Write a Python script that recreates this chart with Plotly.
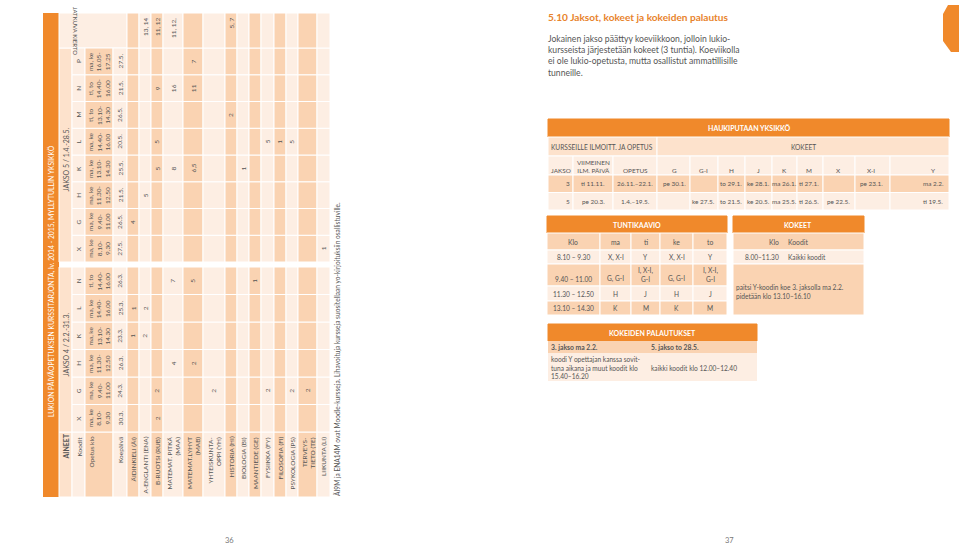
import plotly.graph_objects as go

# ---------------- data: left page (rotated course table) ----------------
left_title = "LUKION PÄIVÄOPETUKSEN KURSSITARJONTA, lv. 2014 - 2015, MYLLYTULLIN YKSIKKÖ"
jakso4_head = "JAKSO 4 / 2.2.-31.3."
jakso5_head = "JAKSO 5 / 1.4.-28.5."
jakso4_codes = ["X", "G", "H", "K", "L", "N"]
jakso4_times = ["ma, ke<br>8.10-<br>9.30", "ma, ke<br>9.40-<br>11.00", "ma, ke<br>11.30-<br>12.50",
                "ma, ke<br>13.10-<br>14.30", "ma, ke<br>14.40-<br>16.00", "ti, to<br>14.40-<br>16.00"]
jakso4_dates = ["30.3.", "24.3.", "26.3.", "23.3.", "25.3.", "26.3."]
jakso5_codes = ["X", "G", "H", "K", "L", "M", "N", "P"]
jakso5_times = ["ma, ke<br>8.10-<br>9.30", "ma, ke<br>9.40-<br>11.00", "ma, ke<br>11.30-<br>12.50",
                "ma, ke<br>13.10-<br>14.30", "ma, ke<br>14.40-<br>16.00", "ti, to<br>13.10-<br>14.30",
                "ti, to<br>14.40-<br>16.00", "ma, ke<br>16.05-<br>17.25"]
jakso5_dates = ["27.5.", "26.5.", "21.5.", "25.5.", "20.5.", "26.5.", "21.5.", "27.5."]

subjects = ["ÄIDINKIELI (ÄI)", "A-ENGLANTI (ENA)", "B-RUOTSI (RUB)", "MATEMAT. PITKÄ<br>(MAA)",
            "MATEMAT.LYHYT<br>(MAB)", "YHTEISKUNTA-<br>OPPI (YH)", "HISTORIA (HI)", "BIOLOGIA (BI)",
            "MAANTIEDE (GE)", "FYSIIKKA (FY)", "FILOSOFIA (FI)", "PSYKOLOGIA (PS)",
            "TERVEYS-<br>TIETO (TE)", "LIIKUNTA (LI)"]
# courses per subject, jakso 4 columns X G H K L N
jakso4_courses = [
    ["", "", "", "1", "1", ""],
    ["", "", "", "2", "2", ""],
    ["2", "2", "", "", "", ""],
    ["", "", "4", "", "", "7"],
    ["", "", "2", "", "", "5"],
    ["", "2", "", "", "", ""],
    ["", "", "", "", "", ""],
    ["", "", "", "", "", ""],
    ["", "", "", "", "", "1"],
    ["", "2", "", "", "", ""],
    ["", "", "", "", "", ""],
    ["", "2", "", "", "", ""],
    ["", "2", "", "", "", ""],
    ["", "", "", "", "", ""],
]
# jakso 5 columns X G H K L M N P
jakso5_courses = [
    ["", "4", "", "", "", "", "", ""],
    ["", "", "5", "", "", "", "", ""],
    ["", "", "", "5", "5", "", "9", ""],
    ["", "", "", "8", "", "", "16", ""],
    ["", "", "", "6,5", "", "", "11", "7"],
    ["", "", "", "", "", "", "", ""],
    ["", "", "", "", "", "2", "", ""],
    ["", "", "", "1", "", "", "", ""],
    ["", "", "", "", "", "", "", ""],
    ["", "", "", "", "5", "", "", ""],
    ["", "", "", "", "1", "", "", ""],
    ["", "", "", "", "5", "", "", ""],
    ["", "", "", "", "", "", "", ""],
    ["1", "", "", "", "", "", "", ""],
]
jatkuva = ["", "13, 14", "11, 12", "11, 12,", "", "", "5, 7", "", "", "", "", "", "", ""]
footnote = "ÄI9M ja ENA14M ovat Moodle-kursseja. Lihavoituja kursseja suositellaan yo-kirjoituksiin osallistuville."

# ---------------- data: right page ----------------
heading = "5.10 Jaksot, kokeet ja kokeiden palautus"
intro = ("Jokainen jakso päättyy koeviikkoon, jolloin lukio-<br>kursseista järjestetään kokeet (3 tuntia). Koeviikolla"
         "<br>ei ole lukio-opetusta, mutta osallistut ammatillisille<br>tunneille.")
exam_codes = ["G", "G-I", "H", "J", "K", "M", "X", "X-I", "Y"]
exam_jakso = ["3", "5"]
exam_last_reg = ["ti 11.11.", "pe 20.3."]
exam_teaching = ["26.11.–22.1.", "1.4.–19.5."]
exam_days = [
    ["pe 30.1.", "", "to 29.1.", "ke 28.1.", "ma 26.1.", "ti 27.1.", "", "pe 23.1.", "ma 2.2."],
    ["", "ke 27.5.", "to 21.5.", "ke 20.5.", "ma 25.5.", "ti 26.5.", "pe 22.5.", "", "ti 19.5."],
]
week_days = ["ma", "ti", "ke", "to"]
lesson_times = ["8.10 – 9.30", "9.40 – 11.00", "11.30 – 12.50", "13.10 – 14.30"]
lesson_codes = [
    ["X, X-I", "Y", "X, X-I", "Y"],
    ["G, G-I", "I, X-I,<br>G-I", "G, G-I", "I, X-I,<br>G-I"],
    ["H", "J", "H", "J"],
    ["K", "M", "K", "M"],
]
exam_time = "8.00–11.30"
exam_time_codes = "Kaikki koodit"
exam_note = "paitsi Y-koodin koe 3. jaksolla ma 2.2.<br>pidetään klo 13.10–16.10"
return_heads = ["3. jakso ma 2.2.", "5. jakso to 28.5."]
return_texts = ["koodi Y opettajan kanssa sovit-<br>tuna aikana ja muut koodit klo<br>15.40–16.20",
                "kaikki koodit klo 12.00–12.40"]

# ---------------- styles ----------------
ORANGE = "#f0892b"
DARK = "#fad3b2"
MID = "#fde2cc"
LIGHT = "#fdeee3"
TXT = "#555555"
FONT = "Lato"

shapes = []
annotations = []


def box(x0, y0, x1, y1, fill, line="white", lw=1):
    shapes.append(dict(type="rect", xref="x", yref="y", x0=x0, y0=y0, x1=x1, y1=y1,
                       fillcolor=fill, line=dict(color=line, width=lw), layer="below"))


def label(x, y, text, size=6.5, color=TXT, angle=0, xa="center", ya="middle", align="center", bold=False):
    if bold:
        text = "<b>" + text + "</b>"
    annotations.append(dict(x=x, y=y, xref="x", yref="y", text=text, showarrow=False,
                            textangle=angle, xanchor=xa, yanchor=ya, align=align,
                            font=dict(family=FONT, size=size, color=color), borderpad=0))


# ---------------- left page geometry ----------------
TOP, BOT = 13, 497
lab_y = (432, 497)
w4 = 27.5
w5 = 26.75
j4_cols = [(432 - (i + 1) * w4, 432 - i * w4) for i in range(6)]
j5_cols = [(262 - (i + 1) * w5, 262 - i * w5) for i in range(8)]
jat_y = (TOP, 48)

hx = {"aineet": (59, 72), "koodit": (72, 85), "opetus": (85, 113), "koe": (113, 127)}
sub_w = [12, 12, 12, 20, 20, 22, 12, 12, 12, 13, 12, 12, 19, 13]
sub_x = []
x = 127
for w in sub_w:
    sub_x.append((x, x + w))
    x += w

# title band
shapes.append(dict(type="rect", x0=43, x1=59, y0=TOP, y1=BOT, fillcolor=ORANGE, line=dict(width=0), layer="below"))
label(51, 281, left_title, size=6.8, color="white", angle=-90)

# header rows
ax = hx["aineet"]
box(ax[0], lab_y[0], ax[1], lab_y[1], MID)
label((ax[0] + ax[1]) / 2, 447, "AINEET", size=7, angle=-90, bold=True)
box(ax[0], j4_cols[-1][0], ax[1], j4_cols[0][1], MID)
label((ax[0] + ax[1]) / 2, 345, jakso4_head, size=7, angle=-90)
box(ax[0], j5_cols[-1][0], ax[1], j5_cols[0][1], MID)
label((ax[0] + ax[1]) / 2, 160, jakso5_head, size=7, angle=-90)
box(ax[0], jat_y[0], hx["koe"][1], jat_y[1], LIGHT)
label(76, 31, "JATKUVA KIERTO", size=6, angle=90)

for key, fill, name, vals4, vals5 in [("koodit", LIGHT, "Koodit", jakso4_codes, jakso5_codes),
                                      ("opetus", DARK, "Opetus klo", jakso4_times, jakso5_times),
                                      ("koe", LIGHT, "Koepäivä", jakso4_dates, jakso5_dates)]:
    x0, x1 = hx[key]
    xc = (x0 + x1) / 2
    box(x0, lab_y[0], x1, lab_y[1], fill)
    label(xc if key != "opetus" else x0 + 6, 436, name, size=6.5, angle=-90, ya="top")
    for (y0, y1), v in zip(j4_cols, vals4):
        box(x0, y0, x1, y1, fill)
        label(xc, (y0 + y1) / 2, v, size=6.5, angle=-90)
    for (y0, y1), v in zip(j5_cols, vals5):
        box(x0, y0, x1, y1, fill)
        label(xc, (y0 + y1) / 2, v, size=6.5, angle=-90)

for i, (name, c4, c5, jk) in enumerate(zip(subjects, jakso4_courses, jakso5_courses, jatkuva)):
    x0, x1 = sub_x[i]
    xc = (x0 + x1) / 2
    fill = DARK if i % 2 == 0 else LIGHT
    box(x0, lab_y[0], x1, lab_y[1], fill)
    label(xc, 436, name, size=6.5, angle=-90, ya="top", align="right")
    for (y0, y1), v in zip(j4_cols, c4):
        box(x0, y0, x1, y1, fill)
        label(xc, (y0 + y1) / 2, v, size=6.5, angle=-90)
    for (y0, y1), v in zip(j5_cols, c5):
        box(x0, y0, x1, y1, fill)
        label(xc, (y0 + y1) / 2, v, size=6.5, angle=-90)
    box(x0, jat_y[0], x1, jat_y[1], fill)
    label(xc, 17, jk, size=6.5, angle=-90, ya="top")

label(337, 497, footnote, size=6.6, angle=-90, ya="bottom")
label(229, 540, "36", size=7.5, color="#777")
label(729, 540, "37", size=7.5, color="#777")

# ---------------- right page ----------------
shapes.append(dict(type="path", path="M 948 5 L 943 14 L 943 41 L 951 52 L 959 52 L 959 5 Z",
                   fillcolor=ORANGE, line=dict(width=0)))
label(547, 17, heading, size=10.1, color="#e8832c", xa="left", bold=True)
label(547, 56, intro, size=8.6, xa="left", align="left")

# Haukiputaan yksikkö
box(548, 119, 949, 137, ORANGE, line=ORANGE)
label(749, 128, "HAUKIPUTAAN YKSIKKÖ", size=7, color="white", bold=True)
box(548, 137, 657, 156, MID)
label(602, 146.5, "KURSSEILLE ILMOITT. JA OPETUS", size=6.6)
box(657, 137, 949, 156, MID)
label(803, 146.5, "KOKEET", size=6.6)
left_cols = [(548, 573), (573, 613), (613, 657)]
code_cols = [(657, 690), (690, 718), (718, 745), (745, 772), (772, 797), (797, 823),
             (823, 855), (855, 890), (890, 949)]
code_cx = [674, 703, 731, 758, 784, 809, 838, 871, 933]
for (x0, x1) in left_cols + code_cols:
    box(x0, 156, x1, 175, LIGHT)
label(561, 170, "JAKSO", size=6.4)
label(593, 166, "VIIMEINEN<br>ILM. PÄIVÄ", size=6.4)
label(635, 170, "OPETUS", size=6.4)
for c, xc in zip(exam_codes, code_cx):
    label(xc, 170, c, size=6.4)
for r, (j, reg, teach, days) in enumerate(zip(exam_jakso, exam_last_reg, exam_teaching, exam_days)):
    y0 = 175 + r * 17.5
    fill = DARK if r == 0 else LIGHT
    for (x0, x1) in left_cols + code_cols:
        box(x0, y0, x1, y0 + 17.5, fill)
    yc = y0 + 8.75
    label(571, yc, j, size=6.4, xa="right")
    label(593, yc, reg, size=6.4)
    label(635, yc, teach, size=6.4)
    for d, xc in zip(days, code_cx):
        label(xc, yc, d, size=6.4)

# Tuntikaavio
box(547, 216, 727, 233, ORANGE, line=ORANGE)
label(637, 224.5, "TUNTIKAAVIO", size=7, color="white", bold=True)
t_cols = [(547, 600), (600, 631), (631, 660), (660, 693), (693, 727)]
t_rows = [(233, 250), (250, 264), (264, 286), (286, 301), (301, 315)]
for ri, (y0, y1) in enumerate(t_rows):
    fill = DARK if ri % 2 == 0 else LIGHT
    for (x0, x1) in t_cols:
        box(x0, y0, x1, y1, fill)
label(573, 241.5, "Klo", size=6.8)
for d, (x0, x1) in zip(week_days, t_cols[1:]):
    label((x0 + x1) / 2, 241.5, d, size=6.8)
for ri, (tm, codes) in enumerate(zip(lesson_times, lesson_codes)):
    y0, y1 = t_rows[ri + 1]
    yb = y1 - 2 if ri == 1 else (y0 + y1) / 2
    ya = "bottom" if ri == 1 else "middle"
    label(573, yb, tm, size=6.6, ya=ya)
    for c, (x0, x1) in zip(codes, t_cols[1:]):
        label((x0 + x1) / 2, yb, c, size=6.6, ya=ya)

# Kokeet
box(733, 216, 864, 233, ORANGE, line=ORANGE)
label(798, 224.5, "KOKEET", size=7, color="white", bold=True)
box(733, 233, 864, 250, DARK)
box(733, 250, 864, 264, LIGHT)
box(733, 264, 864, 315, DARK)
label(780, 241.5, "Klo", size=6.8, xa="right")
label(787, 241.5, "Koodit", size=6.8, xa="left")
label(780, 257, exam_time, size=6.6, xa="right")
label(787, 257, exam_time_codes, size=6.6, xa="left")
label(735, 291, exam_note, size=6.6, xa="left", align="left")

# Kokeiden palautukset
box(548, 324, 757, 341, ORANGE, line=ORANGE)
label(652, 332.5, "KOKEIDEN PALAUTUKSET", size=7, color="white", bold=True)
box(548, 341, 757, 353, DARK, lw=0)
box(548, 353, 757, 381, LIGHT, lw=0)
label(550, 347, return_heads[0], size=6.8, xa="left", bold=True)
label(650, 347, return_heads[1], size=6.8, xa="left", bold=True)
label(550, 367, return_texts[0], size=6.6, xa="left", align="left")
label(650, 368, return_texts[1], size=6.6, xa="left")

fig = go.Figure()
fig.update_layout(
    width=959, height=549,
    margin=dict(l=0, r=0, t=0, b=0),
    paper_bgcolor="white", plot_bgcolor="white",
    xaxis=dict(range=[0, 959], visible=False, fixedrange=True),
    yaxis=dict(range=[549, 0], visible=False, fixedrange=True),
    shapes=shapes, annotations=annotations, showlegend=False,
)
# page body has a default 8px margin; drop it so the figure sits at the window origin
fig.write_html("out.html", config={"displayModeBar": False},
               post_script="document.body.style.margin='0px';")
